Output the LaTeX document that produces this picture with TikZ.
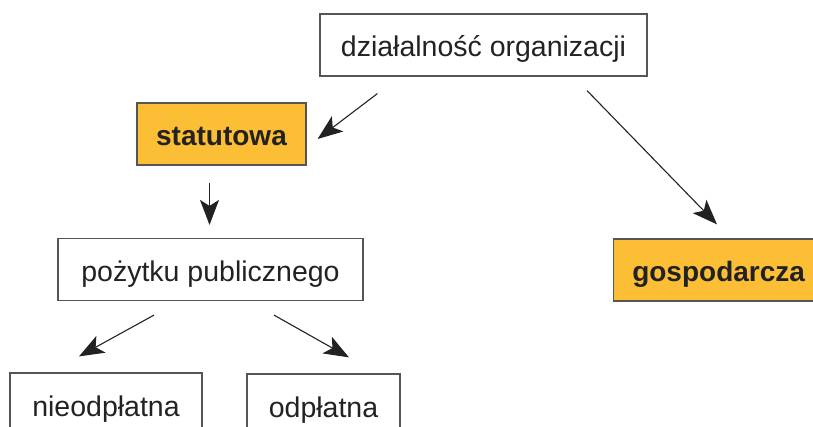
\documentclass[tikz,border=0pt]{standalone}
\usepackage{fontspec}
\setmainfont{Liberation Sans}
\usetikzlibrary{arrows.meta,calc}
\definecolor{statyellow}{RGB}{252,190,52}
\definecolor{framegray}{RGB}{85,85,85}
\definecolor{inkgray}{RGB}{34,34,34}

\begin{document}
\begin{tikzpicture}[x=1pt, y=-1pt,
    box/.style={draw=framegray, line width=1.2pt, minimum height=62pt,
        inner xsep=0pt, text height=24pt, text depth=0pt, text=inkgray,
        font=\fontsize{28.5}{30}\selectfont},
    keybox/.style={box, fill=statyellow, font=\fontsize{28}{30}\selectfont\bfseries},
    arr/.style={-{Stealth[length=25pt, width=19pt, inset=6pt]}, draw=inkgray, line width=1.1pt}]
    % Frame
    \clip (0,0) rectangle (813,427);
    \useasboundingbox (0,0) rectangle (813,427);

    % Boxes
    \node[box, minimum width=327pt] (org) at (483.5,45) {działalność organizacji};
    \node[keybox, minimum width=169pt] (stat) at (221.5,134) {statutowa};
    \node[box, minimum width=305pt] (pub) at (210.5,269.5) {pożytku publicznego};
    \node[keybox, minimum width=210pt, anchor=west] (gosp) at (613,270) {gospodarcza};
    \node[box, minimum width=192pt] (nieodp) at (106,404) {nieodpłatna};
    \node[box, minimum width=153pt] (odp) at (323.5,405) {odpłatna};

    % Arrows
    \draw[arr] ($(org.south west)+(58,17)$) -- ($(stat.east)+(11,5)$);
    \draw[arr] ($(stat.south)+(-12,17)$) -- ($(pub.north)+(-1,-13)$);
    \draw[arr] ($(org.south)+(103.5,14)$) -- ($(gosp.north west)+(104,-14)$);
    \draw[arr] ($(pub.south)+(-56.5,14)$) -- ($(nieodp.north)+(-27,-16)$);
    \draw[arr] ($(pub.south)+(63.5,14)$) -- ($(odp.north)+(25.5,-16)$);
\end{tikzpicture}
\end{document}
